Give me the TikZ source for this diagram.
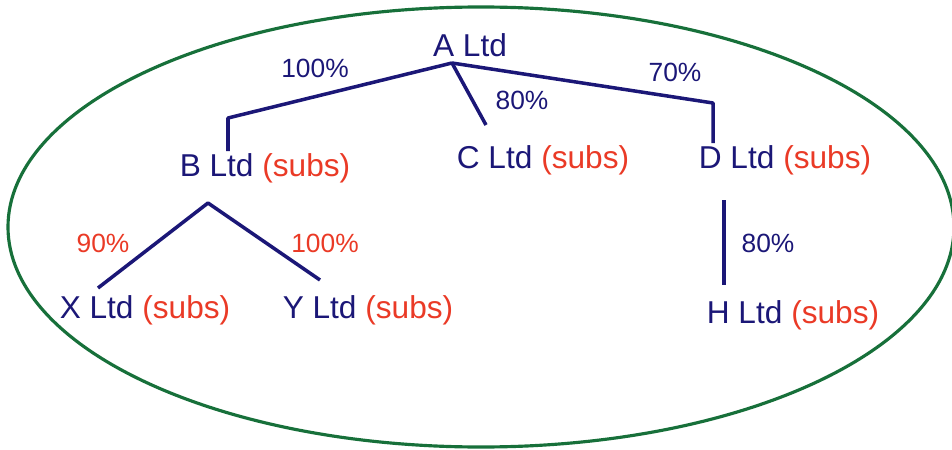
\documentclass[tikz,border=0pt]{standalone}
\usepackage{fontspec}
\setmainfont{Liberation Sans}
\usetikzlibrary{positioning}
\definecolor{ink}{HTML}{1B1777}
\definecolor{subred}{HTML}{EA3A26}
\definecolor{ringgreen}{HTML}{17703A}
\newcommand{\subsnote}{\textcolor{subred}{(subs)}}

\begin{document}
\begin{tikzpicture}[x=0.02cm,y=-0.02cm,
    co/.style={text=ink,inner sep=1pt,font=\fontsize{18}{20}\selectfont},
    pct/.style={text=ink,inner sep=1pt,font=\fontsize{15}{18}\selectfont},
    link/.style={draw=ink,line width=2pt,line join=round}]
  \useasboundingbox (0,0) rectangle (952,449);
  \draw[ringgreen,line width=1.8pt] (481,227) ellipse [x radius=473, y radius=220];
  % companies
  \node[co] (a) at (470,45) {A Ltd};
  \node[co] (b) at (265,168) {B Ltd \subsnote};
  \node[co] (c) at (543,160) {C Ltd \subsnote};
  \node[co] (d) at (785,160) {D Ltd \subsnote};
  \node[co] (x) at (145,310) {X Ltd \subsnote};
  \node[co] (y) at (368,310) {Y Ltd \subsnote};
  \node[co] (h) at (793,315) {H Ltd \subsnote};
  % joints
  \coordinate (aJ) at (452,63);
  \coordinate (bK) at (228,118);
  \coordinate (cK) at (486,125);
  \coordinate (dK) at (713,103);
  \coordinate (bJ) at (208,203);
  \coordinate (xK) at (98,288);
  \coordinate (yK) at (320,280);
  \coordinate (hT) at (724,200);
  \coordinate (hB) at (724,285);
  \draw[link] (aJ) -- (bK) -- (bK |- b.north);
  \draw[link] (aJ) -- (cK);
  \draw[link] (aJ) -- (dK) -- (dK |- d.north);
  \draw[link] (xK) -- (bJ) -- (yK);
  \draw[link] (hT) -- (hB);
  % holdings
  \foreach \p/\t/\c in {(315,68)/100/ink,(522,100)/80/ink,(675,72)/70/ink,
      (103,243)/90/subred,(325,243)/100/subred,(768,243)/80/ink}
    \node[pct,text=\c] at \p {\t\%};
\end{tikzpicture}
\end{document}
